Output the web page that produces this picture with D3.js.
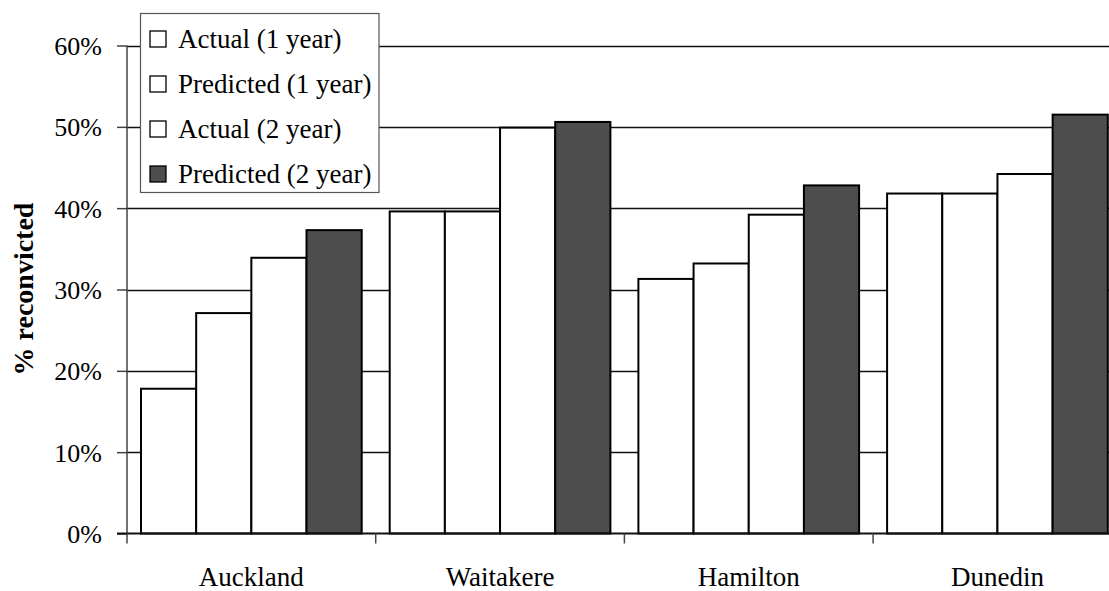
<!DOCTYPE html>
<html><head><meta charset="utf-8">
<script src="https://cdn.jsdelivr.net/npm/d3@7"></script>
<style>body{margin:0;background:#fff}svg{display:block}text{font-family:"Liberation Serif","Times New Roman",serif}</style>
</head><body>
<svg id="c" width="1109" height="591"></svg>
<script>
const categories = ["Auckland", "Waitakere", "Hamilton", "Dunedin"];
const seriesNames = ["Actual (1 year)", "Predicted (1 year)", "Actual (2 year)", "Predicted (2 year)"];
const actual1 = [17.8, 39.6, 31.3, 41.8];
const predicted1 = [27.1, 39.6, 33.2, 41.8];
const actual2 = [33.9, 49.9, 39.2, 44.2];
const predicted2 = [37.3, 50.6, 42.8, 51.5];
const yTicks = [0, 10, 20, 30, 40, 50, 60];
const seriesFill = ["#ffffff", "#ffffff", "#ffffff", "#4d4d4d"];

const values = [actual1, predicted1, actual2, predicted2];
const svg = d3.select("#c");
const x0 = 127, bandW = 248.7;
const x = d3.scaleBand().domain(categories).range([x0, x0 + bandW * 4]).padding(0);
const x1 = d3.scaleBand().domain(seriesNames).range([14, bandW - 14]).padding(0);
const y = d3.scaleLinear().domain([0, 60]).range([533.5, 45.5]);

// gridlines
svg.append("g").selectAll("line").data(yTicks.filter(d => d > 0)).join("line")
  .attr("x1", x0).attr("x2", 1109).attr("y1", d => Math.round(y(d)) + 0.5).attr("y2", d => Math.round(y(d)) + 0.5)
  .attr("stroke", "#111").attr("stroke-width", 1.6);

// bars
const data = [];
categories.forEach((c, i) => seriesNames.forEach((s, j) => data.push({c, s, j, v: values[j][i]})));
svg.append("g").selectAll("rect").data(data).join("rect")
  .attr("x", d => x(d.c) + x1(d.s)).attr("width", x1.bandwidth())
  .attr("y", d => y(d.v)).attr("height", d => y(0) - y(d.v))
  .attr("fill", d => seriesFill[d.j]).attr("stroke", "#000").attr("stroke-width", 2);

// y axis
const yAxis = svg.append("g").attr("transform", `translate(${x0},0)`)
  .call(d3.axisLeft(y).tickValues(yTicks).tickSize(10).tickPadding(15).tickFormat(d => d + "%"));
yAxis.select(".domain").attr("stroke", "#444").attr("stroke-width", 1.5).attr("d", `M0,${y(60)}V${y(0)}`);
yAxis.selectAll(".tick line").attr("stroke", "#444").attr("stroke-width", 1.5);
yAxis.selectAll("text").attr("font-size", 26).attr("fill", "#000").attr("font-family", "Liberation Serif").attr("dy", "0.34em");

// x axis
const xAxis = svg.append("g").attr("transform", `translate(0,${y(0)})`)
  .call(d3.axisBottom(x).tickSize(0).tickPadding(33));
xAxis.select(".domain").attr("stroke", "#111").attr("stroke-width", 2).attr("d", `M${x0 - 10},0H1109`);
xAxis.selectAll("text").attr("font-size", 27).attr("fill", "#000").attr("font-family", "Liberation Serif");
svg.append("g").selectAll("line").data(d3.range(4)).join("line")
  .attr("x1", i => x0 + i * bandW).attr("x2", i => x0 + i * bandW)
  .attr("y1", y(0)).attr("y2", y(0) + 10).attr("stroke", "#444").attr("stroke-width", 1.5);

// y title
svg.append("text").attr("transform", `translate(33,289) rotate(-90)`)
  .attr("text-anchor", "middle").attr("font-size", 28).attr("font-weight", "bold").text("% reconvicted");

// legend
const lg = svg.append("g");
lg.append("rect").attr("x", 140.5).attr("y", 13.5).attr("width", 238.5).attr("height", 179)
  .attr("fill", "#fff").attr("stroke", "#555").attr("stroke-width", 1.2);
const rows = lg.selectAll("g.r").data(seriesNames).join("g").attr("class", "r")
  .attr("transform", (d, i) => `translate(0,${39 + i * 45})`);
rows.append("rect").attr("x", 150).attr("y", -8).attr("width", 16).attr("height", 16)
  .attr("fill", (d, i) => seriesFill[i]).attr("stroke", "#000").attr("stroke-width", 1.3);
rows.append("text").attr("x", 178).attr("y", 0).attr("dy", "0.34em").attr("font-size", 27).text(d => d);
</script>
</body></html>
